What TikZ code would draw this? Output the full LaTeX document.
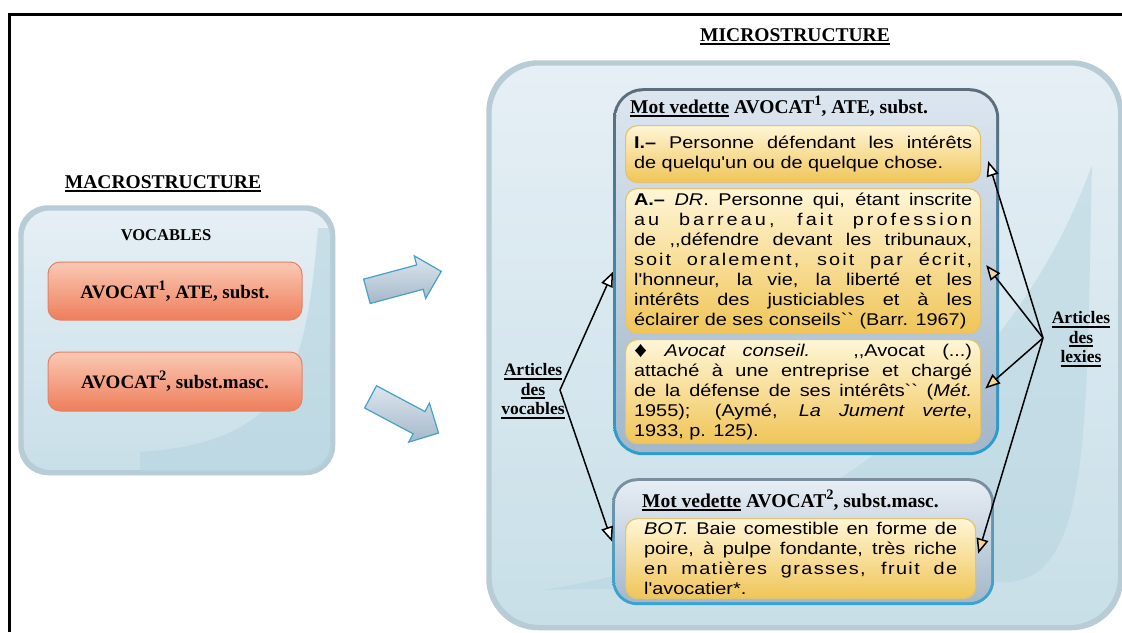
\documentclass[tikz,border=0pt]{standalone}
\usepackage{fontspec}
\setmainfont{Liberation Serif}
\newfontfamily\bodyf[FakeStretch=1.17,Ligatures=TeXOff]{Liberation Sans}
\usetikzlibrary{shapes.arrows,arrows.meta}
\definecolor{boxTop}{HTML}{E6EFF5}
\definecolor{boxBot}{HTML}{C8DFE8}
\definecolor{boxLine}{HTML}{B7CCD5}
\definecolor{glossDark}{HTML}{B6D5E0}
\definecolor{orTop}{HTML}{FAC9B4}
\definecolor{orMid}{HTML}{F4A487}
\definecolor{orBot}{HTML}{EE7E5B}
\definecolor{orLine}{HTML}{E4806A}
\definecolor{yTop}{HTML}{FFF6D6}
\definecolor{yMid}{HTML}{F9DE94}
\definecolor{yBot}{HTML}{F0C558}
\definecolor{yLine}{HTML}{E4C274}
\definecolor{eTop}{HTML}{5C6C7B}
\definecolor{eBot}{HTML}{2A9FD0}
\definecolor{fTop}{HTML}{7C8E9E}
\definecolor{fBot}{HTML}{37A4D0}
\definecolor{inTop}{HTML}{DCE6F0}
\definecolor{inBot}{HTML}{A3B7CA}
\definecolor{baTop}{HTML}{DCE6EE}
\definecolor{baBot}{HTML}{A5B8C9}
\definecolor{baLine}{HTML}{45A2C6}
\definecolor{tipY}{HTML}{F5D68C}
\definecolor{tipO}{HTML}{F4D3A8}

\newcommand\bodytext{\bodyf\fontsize{17}{20}\selectfont}
\newcommand\jl[2][338pt]{\makebox[#1][s]{#2}}
\newsavebox\ulbox
\newcommand\myul[1]{\sbox\ulbox{#1}\rlap{\rule[-4pt]{\wd\ulbox}{1.6pt}}\usebox\ulbox}
\newcommand\supnum[1]{\raisebox{7.5pt}{\fontsize{14.5}{14.5}\selectfont #1}}

\begin{document}
\begin{tikzpicture}[x=1pt,y=-1pt,
  title/.style={font=\fontsize{19.5}{22}\selectfont\bfseries, inner sep=0pt, anchor=base},
  bigbox/.style={rounded corners=#1, top color=boxTop, bottom color=boxBot, draw=boxLine, line width=3.5pt, inner sep=0pt, anchor=north west},
  vbox/.style={rounded corners=12pt, top color=orTop, middle color=orMid, bottom color=orBot, draw=orLine, line width=1pt, font=\fontsize{19}{20}\selectfont\bfseries, inner sep=0pt, minimum width=254pt, minimum height=58pt},
  ybox/.style={rounded corners=12pt, top color=yTop, middle color=yMid, bottom color=yBot, draw=yLine, line width=1.2pt, font=\bodytext, align=left, inner xsep=8.5pt, inner ysep=0pt, anchor=north west},
  eouter/.style={rounded corners=#1, inner sep=0pt, anchor=north west},
  einner/.style={rounded corners=#1, top color=inTop, bottom color=inBot, inner sep=0pt},
  head/.style={font=\fontsize{19.5}{22}\selectfont\bfseries, inner sep=0pt, anchor=base west},
  lab/.style={font=\fontsize{17.5}{19.5}\selectfont\bfseries, align=center, inner sep=0pt},
  conn/.style={line width=1.5pt, -{Triangle[length=15pt,width=12pt,fill=#1]}},
  barrow/.style={single arrow, single arrow head extend=9.5pt, minimum height=77pt, minimum width=44pt, inner xsep=0pt, inner ysep=12pt, top color=baTop, bottom color=baBot, draw=baLine, line width=1.2pt}
]
\useasboundingbox (0,0) rectangle (1122,632);
\fill[white] (0,0) rectangle (1122,632);
\draw[line width=3pt] (9,632) -- (9,14) -- (1122,14);

% ---- macrostructure
\node[title] (tmacro) at (163,188) {\myul{MACROSTRUCTURE}};
\node[bigbox=28pt, minimum width=310pt, minimum height=263pt] (macro) at (20,207) {};
\begin{scope}
\clip[rounded corners=28pt] (macro.north west) rectangle (macro.south east);
\fill[glossDark, opacity=.6] (318,228) .. controls (306,370) and (290,442) .. (140,452) -- (140,480) -- (340,480) -- (340,228) -- cycle;
\end{scope}
\draw[rounded corners=28pt, boxLine, line width=3.5pt] (macro.north west) rectangle (macro.south east);
\node[font=\fontsize{16.5}{18}\selectfont\bfseries, inner sep=0pt, anchor=base] (voc) at (166,240) {VOCABLES};
\node[vbox] (v1) at (175,291) {\raisebox{3pt}{AVOCAT\supnum{1}, ATE, subst.}};
\node[vbox, minimum height=59pt] (v2) at (175,381.5) {\raisebox{4pt}{AVOCAT\supnum{2}, subst.masc.}};

% ---- block arrows
\node[barrow, rotate=15] (ba1) at (398,283) {};
\node[barrow, rotate=-28] (ba2) at (399,412) {};

% ---- microstructure
\node[title] (tmicro) at (795,41) {\myul{MICROSTRUCTURE}};
\node[bigbox=50pt, minimum width=630pt, minimum height=563pt] (micro) at (488,62) {};
\begin{scope}
\clip[rounded corners=50pt] (micro.north west) rectangle (micro.south east);
\fill[glossDark, opacity=.5] (1092,165) .. controls (1086,420) and (1092,574) .. (1010,582) -- (540,590) .. controls (760,560) and (1000,420) .. (1092,165) -- cycle;
\end{scope}
\draw[rounded corners=50pt, boxLine, line width=3.5pt] (micro.north west) rectangle (micro.south east);

% entry 1
\node[eouter=30pt, top color=eTop, bottom color=eBot, minimum width=386pt, minimum height=367pt] (e1) at (613,88) {};
\node[einner=27pt, minimum width=380pt, minimum height=361pt] (e1in) at (e1.center) {};
\node[head] (h1) at (630,113) {\myul{Mot vedette} AVOCAT\supnum{1}, ATE, subst.};

\node[ybox, minimum width=355pt, minimum height=57pt] (yI) at (625,125) {%
\jl{\textbf{I.–} Personne défendant les intérêts}\\
de quelqu'un ou de quelque chose.};

\node[ybox, minimum width=355pt, minimum height=145pt] (yA) at (625,188) {%
\jl{\textbf{A.–} \textit{DR}. Personne qui, étant inscrite}\\
\jl{\addfontfeature{LetterSpace=18}au barreau, fait profession}\\
\jl{de ,,défendre devant les tribunaux,}\\
\jl{\addfontfeature{LetterSpace=12}soit oralement, soit par écrit,}\\
\jl{l'honneur, la vie, la liberté et les}\\
\jl{intérêts des justiciables et à les}\\
éclairer de ses conseils`` (Barr. 1967)};

\node[ybox, minimum width=355pt, minimum height=104pt] (yD) at (625,339) {%
\jl{\raisebox{-1pt}{\fontsize{22}{22}\selectfont ♦} \textit{Avocat conseil.} ,,Avocat (...)}\\
\jl{attaché à une entreprise et chargé}\\
\jl{de la défense de ses intérêts`` (\textit{Mét.}}\\
\jl{1955); (Aymé, \textit{La Jument verte},}\\
1933, p. 125).};

% entry 2
\node[eouter=25pt, top color=fTop, bottom color=fBot, minimum width=382pt, minimum height=127pt] (e2) at (612,478) {};
\node[einner=22pt, minimum width=376pt, minimum height=121pt, top color=inTop!70!white] (e2in) at (e2.center) {};
\node[head] (h2) at (642,507) {\myul{Mot vedette} AVOCAT\supnum{2}, subst.masc.};
\node[ybox, inner xsep=18.5pt, minimum width=350pt, minimum height=80pt] (y2) at (625,518) {%
\jl[313pt]{\textit{BOT.} Baie comestible en forme de}\\
\jl[313pt]{poire, à pulpe fondante, très riche}\\
\jl[313pt]{\addfontfeature{LetterSpace=8}en matières grasses, fruit de}\\
l'avocatier*.};

% ---- labels and connectors
\node[lab] (lvoc) at (533,391) {\myul{Articles}\\\myul{des}\\\myul{vocables}};
\node[lab] (llex) at (1081,339) {\myul{Articles}\\\myul{des}\\\myul{lexies}};
\coordinate (vL) at (560,390);
\coordinate (vR) at (1043,338);

\draw[conn=white] (vL) -- (e1.west);
\draw[conn=white] (vL) -- (e2.west);
\draw[conn=white] (vR) -- ([shift={(7,7)}]yI.east);
\draw[conn=tipO] (vR) -- ([shift={(5,4)}]yA.east);
\draw[conn=tipY] (vR) -- ([shift={(4,-3)}]yD.east);
\draw[conn=tipY] (vR) -- ([shift={(2,-5)}]y2.east);
\end{tikzpicture}
\end{document}
